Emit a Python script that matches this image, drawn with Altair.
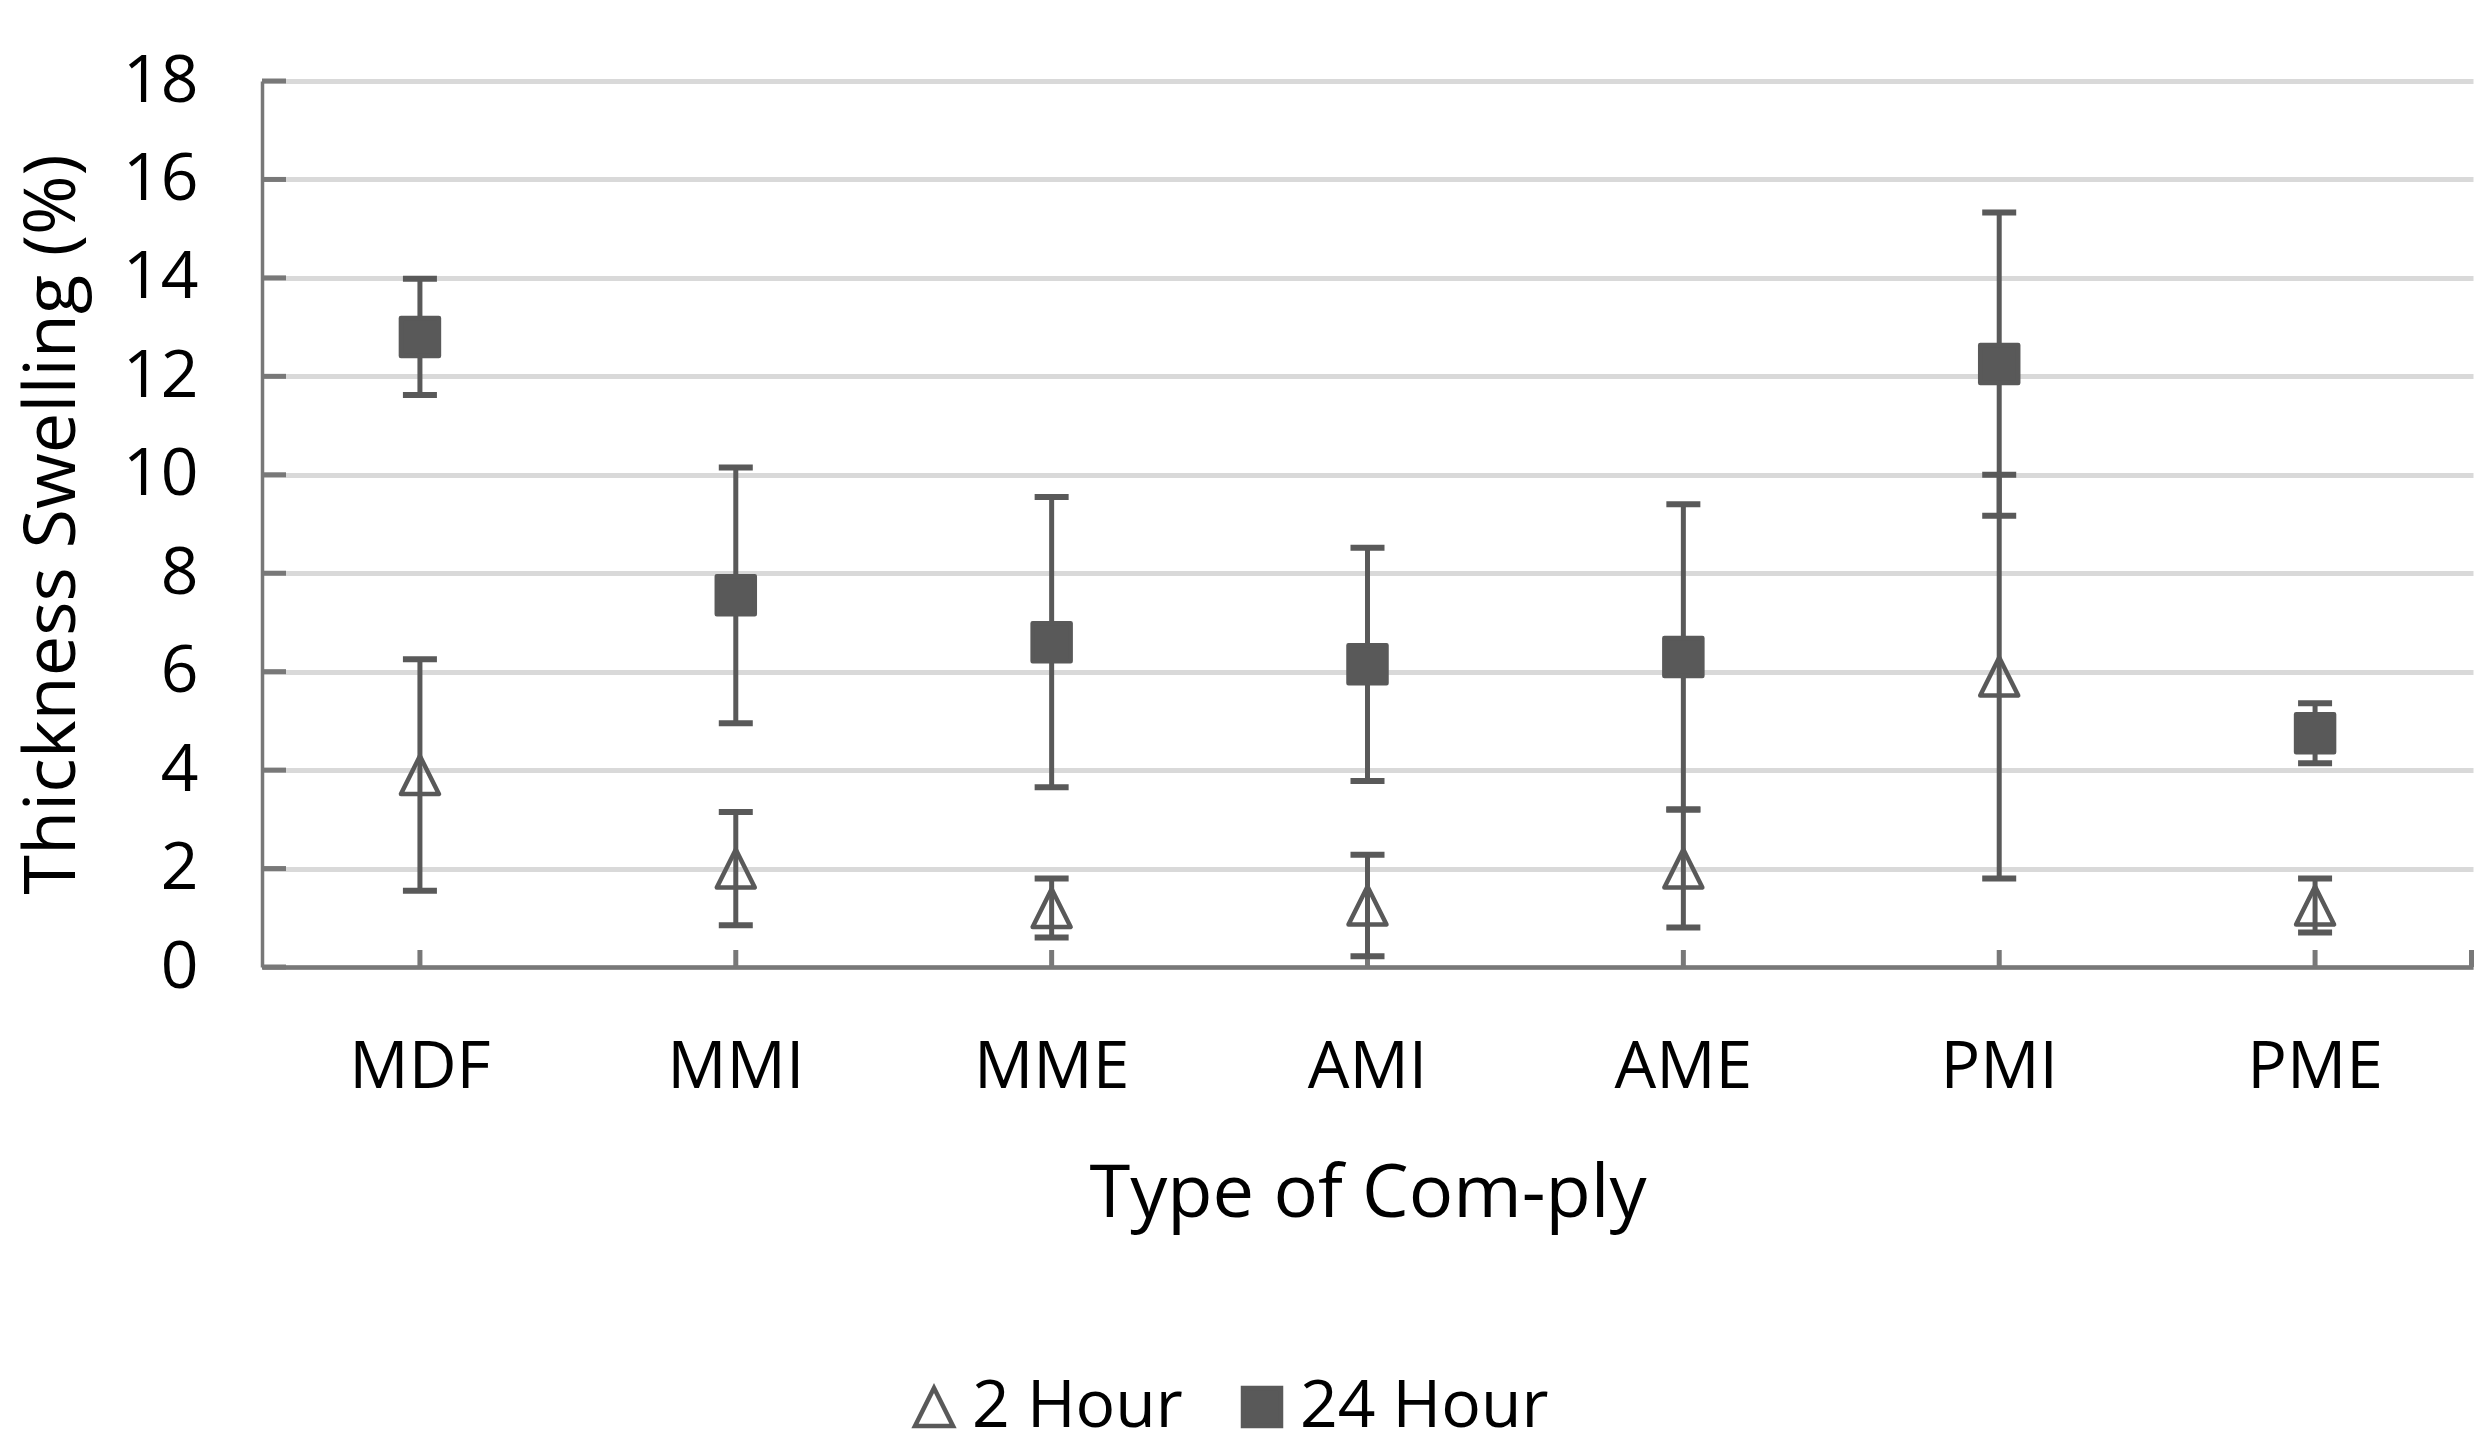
import altair as alt
import pandas as pd

# ---- data ----
categories = ["MDF", "MMI", "MME", "AMI", "AME", "PMI", "PME"]
series_names = ["2 Hour", "24 Hour"]
mean_2h = [3.9, 2.0, 1.2, 1.25, 2.0, 5.9, 1.25]
err_2h = [2.35, 1.15, 0.6, 1.03, 1.2, 4.1, 0.55]
mean_24h = [12.8, 7.55, 6.6, 6.15, 6.3, 12.25, 4.75]
err_24h = [1.18, 2.6, 2.95, 2.37, 3.1, 3.08, 0.61]
y_ticks = [0, 2, 4, 6, 8, 10, 12, 14, 16, 18]

rows = []
for s, means, errs in [(series_names[0], mean_2h, err_2h), (series_names[1], mean_24h, err_24h)]:
    for c, m, e in zip(categories, means, errs):
        rows.append({"cat": c, "series": s, "mean": m, "lo": m - e, "hi": m + e})
df = pd.DataFrame(rows)
df_ticks = pd.DataFrame({"v": y_ticks})
df_cats = pd.DataFrame({"cat": categories})

W, H = 2211, 886
FONT = "Open Sans"
DARK = "#595959"
AXIS = "#787878"
TRI = "M0,-1L1,1L-1,1Z"

xscale = alt.Scale(domain=categories, paddingInner=0, paddingOuter=0)
yscale = alt.Scale(domain=[0, 18], nice=False)

xaxis = alt.Axis(title="Type of Com-ply", labelAngle=0, ticks=False, grid=False,
                 domainColor=AXIS, domainWidth=4.5, labelFontSize=66, labelFont=FONT,
                 labelColor="#000000", labelPadding=68, titleFontSize=74, titleFont=FONT,
                 titleFontWeight="normal", titleColor="#000000", titlePadding=58)
yaxis = alt.Axis(title="Thickness Swelling (%)", values=y_ticks, ticks=False, grid=True,
                 gridColor="#d9d9d9", gridWidth=5, domainColor=AXIS, domainWidth=3.5,
                 labelFontSize=66, labelFont=FONT, labelColor="#000000", labelPadding=64,
                 titleFontSize=72, titleFont=FONT, titleFontWeight="normal",
                 titleColor="#000000", titlePadding=33)

X = alt.X("cat:N", sort=categories, scale=xscale, axis=xaxis)

base = alt.Chart(df)

# inward y ticks
ytick_rules = alt.Chart(df_ticks).mark_rule(color=AXIS, strokeWidth=5).encode(
    y=alt.Y("v:Q", scale=yscale, axis=yaxis),
    x=alt.value(0), x2=alt.value(24),
)

# inward x ticks at category centres
xtick_rules = alt.Chart(df_cats).mark_rule(color=AXIS, strokeWidth=5).encode(
    x=X, y=alt.value(H), y2=alt.value(H - 17),
)
end_tick = alt.Chart(df_cats).mark_rule(color=AXIS, strokeWidth=5).encode(
    x=alt.value(W - 1), y=alt.value(H), y2=alt.value(H - 17),
)

err_rules = base.mark_rule(color=DARK, strokeWidth=5).encode(
    x=X,
    y=alt.Y("lo:Q", scale=yscale, axis=yaxis),
    y2="hi:Q",
)
cap_lo = base.mark_tick(color=DARK, thickness=6, size=34, opacity=1).encode(
    x=X, y=alt.Y("lo:Q", scale=yscale, axis=yaxis)
)
cap_hi = base.mark_tick(color=DARK, thickness=6, size=34, opacity=1).encode(
    x=X, y=alt.Y("hi:Q", scale=yscale, axis=yaxis)
)

legend = alt.Legend(orient="none", legendX=639, legendY=1293, direction="horizontal",
                    title=None, labelFontSize=66, labelFont=FONT, labelColor="#000000",
                    labelLimit=600, symbolSize=1444, symbolStrokeWidth=4.5,
                    labelOffset=5, columnPadding=46, padding=0)

points = base.mark_point(strokeWidth=4.5, opacity=1, size=1444,
                         strokeJoin="round").encode(
    x=X,
    y=alt.Y("mean:Q", scale=yscale, axis=yaxis),
    shape=alt.Shape("series:N", sort=series_names,
                    scale=alt.Scale(domain=series_names, range=[TRI, "square"]),
                    legend=legend),
    fill=alt.Fill("series:N", sort=series_names,
                  scale=alt.Scale(domain=series_names, range=["transparent", DARK]),
                  legend=legend),
    stroke=alt.Stroke("series:N", sort=series_names,
                      scale=alt.Scale(domain=series_names, range=[DARK, DARK]),
                      legend=legend),
)

chart = alt.layer(
    ytick_rules, xtick_rules, end_tick, err_rules, cap_lo, cap_hi, points
).properties(
    width=W, height=H,
    autosize=alt.AutoSizeParams(type="none"),
    padding={"left": 254, "top": 73, "right": 1, "bottom": 475},
    background="white",
).configure_view(stroke=None)

chart.save("out.html", embed_options={"renderer": "svg", "actions": False})
